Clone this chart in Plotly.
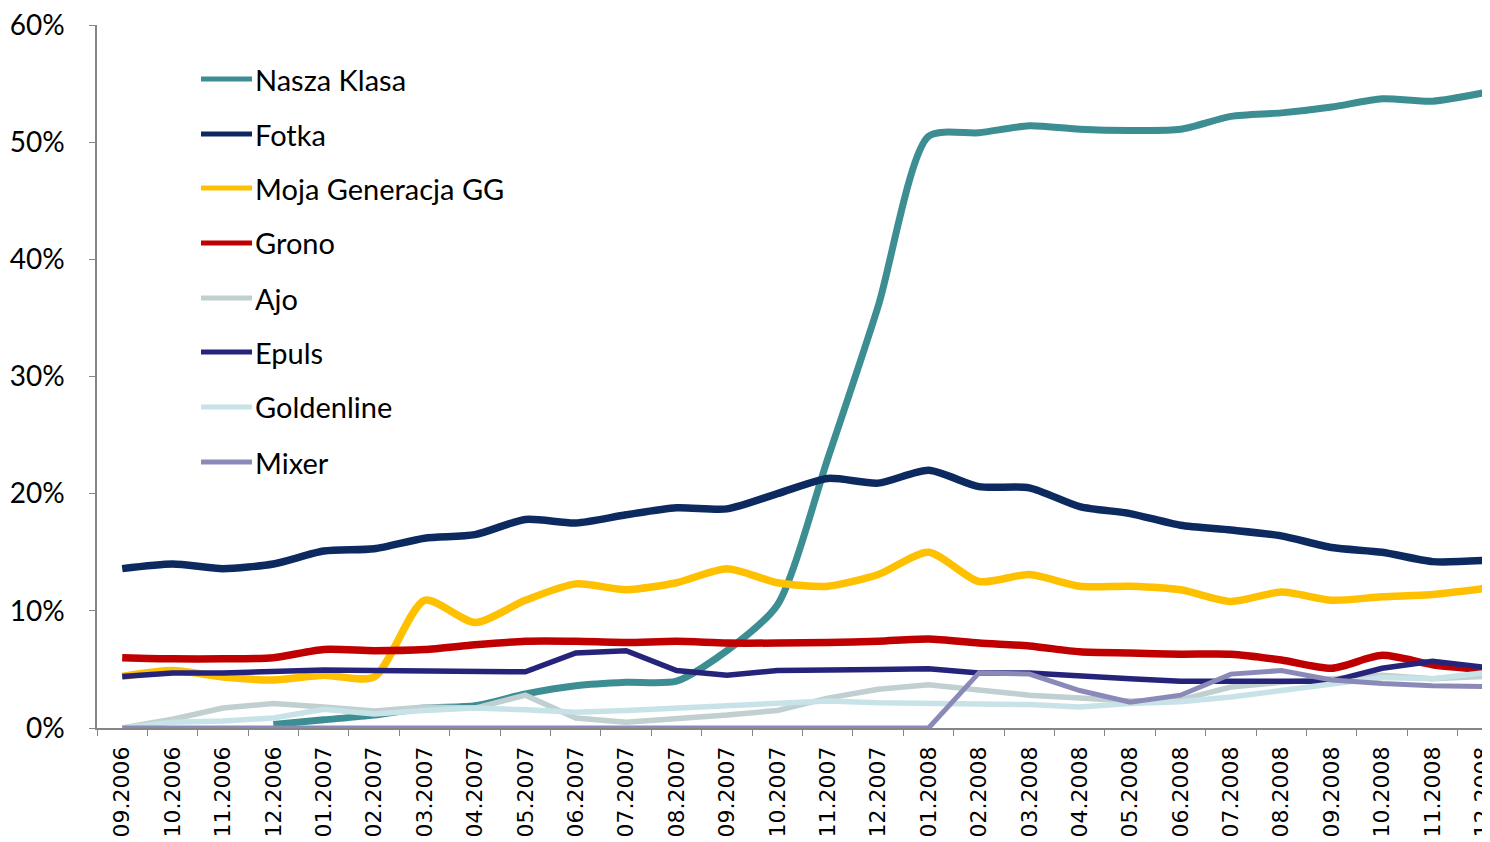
import plotly.graph_objects as go

months = ["09.2006", "10.2006", "11.2006", "12.2006", "01.2007", "02.2007", "03.2007",
          "04.2007", "05.2007", "06.2007", "07.2007", "08.2007", "09.2007", "10.2007",
          "11.2007", "12.2007", "01.2008", "02.2008", "03.2008", "04.2008", "05.2008",
          "06.2008", "07.2008", "08.2008", "09.2008", "10.2008", "11.2008", "12.2008"]

nasza_klasa = [None, None, None, 0.3, 0.7, 1.1, 1.7, 1.9, 2.9, 3.6, 3.9, 4.0, 6.6, 10.5,
               23.0, 36.0, 50.5, 50.8, 51.4, 51.1, 51.0, 51.1, 52.2, 52.5, 53.0, 53.7, 53.5, 54.2]
fotka = [13.6, 14.0, 13.6, 14.0, 15.1, 15.3, 16.2, 16.5, 17.8, 17.5, 18.2, 18.8, 18.7, 20.0,
         21.3, 20.9, 22.0, 20.6, 20.5, 18.9, 18.3, 17.3, 16.9, 16.4, 15.4, 15.0, 14.2, 14.3]
moja_generacja = [4.4, 4.9, 4.35, 4.1, 4.5, 4.35, 10.9, 9.0, 10.9, 12.3, 11.8, 12.4, 13.6, 12.4,
                  12.1, 13.1, 15.0, 12.5, 13.1, 12.1, 12.1, 11.8, 10.8, 11.6, 10.9, 11.2, 11.4, 11.9]
grono = [6.0, 5.9, 5.9, 6.0, 6.7, 6.6, 6.7, 7.1, 7.4, 7.4, 7.3, 7.4, 7.25, 7.25,
         7.3, 7.4, 7.6, 7.25, 7.0, 6.5, 6.4, 6.3, 6.3, 5.8, 5.1, 6.2, 5.4, 5.0]
ajo = [0.0, 0.75, 1.7, 2.1, 1.8, 1.45, 1.8, 1.7, 2.8, 0.85, 0.5, 0.75, 1.1, 1.5,
       2.55, 3.3, 3.7, 3.25, 2.8, 2.55, 2.3, 2.4, 3.5, 3.9, 4.2, 4.5, 4.2, 4.4]
epuls = [4.4, 4.7, 4.7, 4.8, 4.95, 4.9, 4.9, 4.9, 4.8, 6.4, 6.6, 4.9, 4.5, 4.9,
         4.9, 5.0, 5.05, 4.7, 4.7, 4.4, 4.2, 4.0, 4.0, 4.1, 4.0, 5.1, 5.7, 5.2]
goldenline = [0.0, 0.5, 0.6, 0.85, 1.6, 1.2, 1.5, 1.7, 1.55, 1.35, 1.5, 1.7, 1.9, 2.1,
              2.3, 2.15, 2.1, 2.0, 2.0, 1.8, 2.1, 2.25, 2.65, 3.2, 3.8, 4.3, 4.2, 4.7]
mixer = [0, 0, 0, 0, 0, 0, 0, 0, 0, 0, 0, 0, 0, 0,
         0, 0, 0, 4.7, 4.6, 3.2, 2.2, 2.8, 4.6, 4.9, 4.1, 3.8, 3.6, 3.55]

y_tick_vals = [0, 10, 20, 30, 40, 50, 60]
y_tick_text = ["0%", "10%", "20%", "30%", "40%", "50%", "60%"]

series = [
    ("Nasza Klasa", nasza_klasa, "#3C8E93", 7, "spline"),
    ("Fotka", fotka, "#0C2A5F", 7.5, "spline"),
    ("Moja Generacja GG", moja_generacja, "#FFC000", 7.5, "spline"),
    ("Grono", grono, "#C00000", 7.5, "spline"),
    ("Ajo", ajo, "#C0CFD0", 5.5, "linear"),
    ("Epuls", epuls, "#26247A", 5.5, "linear"),
    ("Goldenline", goldenline, "#C8E3E8", 5.5, "linear"),
    ("Mixer", mixer, "#8B89B8", 5, "linear"),
]

# page body has an 8px margin; size the figure so the plot lands where the reference has it
OFF = 8
W, H = 1490 - OFF, 842 - OFF
L, R, T, B = 97 - OFF, 0, 25 - OFF, 842 - 728
pw, ph = W - L - R, H - T - B

fig = go.Figure()
for name, vals, color, width, shape in series:
    line = dict(color=color, width=width, shape=shape)
    if shape == "spline":
        line["smoothing"] = 0.7
    fig.add_trace(go.Scatter(x=months, y=vals, mode="lines", name=name, line=line,
                             showlegend=False, connectgaps=False))

# manual legend (positions in page pixels converted to paper coords)
legend_y_px = [79, 134, 188, 243, 298, 352, 407, 462]
shapes = []
annotations = []
for (name, vals, color, width, shape), ypx in zip(series, legend_y_px):
    yp = (728 - ypx) / ph
    shapes.append(dict(type="line", xref="paper", yref="paper",
                       x0=(201 - 97) / pw, x1=(252 - 97) / pw, y0=yp, y1=yp,
                       line=dict(color=color, width=5)))
    annotations.append(dict(xref="paper", yref="paper", x=(253 - 97) / pw, y=yp,
                            text=name, showarrow=False, xanchor="left", yanchor="middle",
                            font=dict(family="Lato", size=29, color="#000000")))

fig.update_layout(
    width=W, height=H,
    margin=dict(l=L, r=R, t=T, b=B, autoexpand=False),
    paper_bgcolor="white", plot_bgcolor="white",
    shapes=shapes, annotations=annotations,
    xaxis=dict(type="category", range=[-0.5, 27.14], tickson="boundaries",
               automargin=False,
               ticks="outside", ticklen=6, tickcolor="#868686",
               showline=True, linecolor="#868686", linewidth=1.5,
               showgrid=False, tickangle=-90, ticklabelstandoff=8,
               ticklabeloverflow="allow",
               tickfont=dict(family="DejaVu Sans", size=22, color="#000000")),
    yaxis=dict(range=[0, 60], tickvals=y_tick_vals, ticktext=y_tick_text,
               automargin=False,
               ticks="outside", ticklen=6, tickcolor="#868686",
               showline=True, linecolor="#868686", linewidth=1.5,
               showgrid=False, zeroline=False, ticklabelstandoff=19,
               ticklabeloverflow="allow",
               tickfont=dict(family="Lato", size=28, color="#000000")),
)

fig.write_html("out.html")
